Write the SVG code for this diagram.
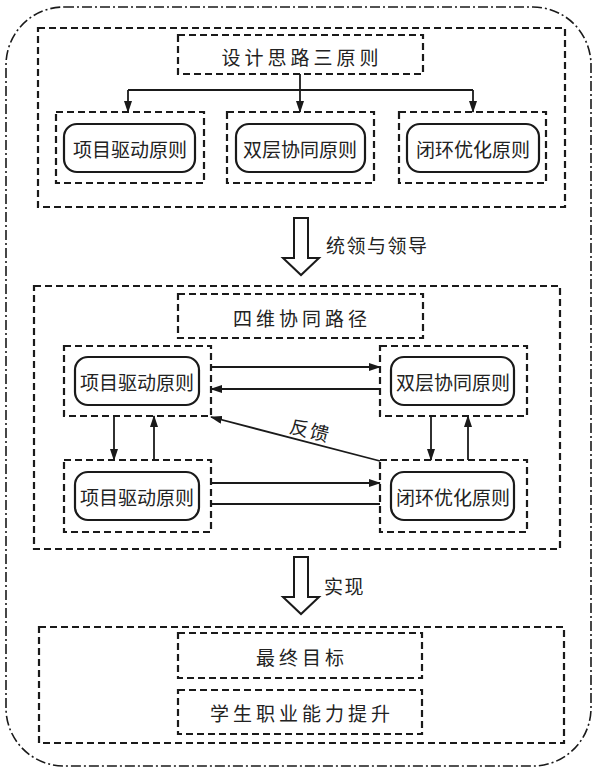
<svg xmlns="http://www.w3.org/2000/svg" width="597" height="771" viewBox="0 0 597 771">
<defs>
<marker id="ah" markerWidth="12" markerHeight="8" refX="11" refY="4" orient="auto" markerUnits="userSpaceOnUse">
<path d="M0,0 L12,4 L0,8 Z" fill="#1a1a1a"/>
</marker>
</defs>
<style>
.dash{fill:none;stroke:#1a1a1a;stroke-width:2.2;stroke-dasharray:7 4}
.inner{fill:#fff;stroke:#1a1a1a;stroke-width:2.2}
.ln{fill:none;stroke:#1a1a1a;stroke-width:1.8}
.big{fill:#fff;stroke:#1a1a1a;stroke-width:2;stroke-linejoin:miter}
.t{font-family:"Noto Sans CJK SC","Noto Sans",sans-serif;font-size:19px;fill:#222;text-anchor:middle;dominant-baseline:central}
.tt{font-family:"Noto Sans CJK SC","Noto Sans",sans-serif;font-size:19px;fill:#222;text-anchor:middle;dominant-baseline:central;letter-spacing:4px}
.lab{font-family:"Noto Sans CJK SC","Noto Sans",sans-serif;font-size:19px;fill:#222;dominant-baseline:central;letter-spacing:1.5px}
</style>
<rect x="6" y="7" width="585" height="759" rx="58" ry="58" fill="none" stroke="#1a1a1a" stroke-width="1.6" stroke-dasharray="10 3 2 3"/>

<g id="sec-top">
<rect class="dash" x="38" y="28" width="527" height="179"/>
</g>
<g id="title-top">
<rect class="dash" x="178" y="35" width="245" height="39"/>
<text class="tt" x="302" y="56">设计思路三原则</text>
</g>
<g id="top-n1">
<rect class="dash" x="56" y="112" width="148" height="71"/>
<rect class="inner" x="64" y="124" width="131" height="48" rx="13"/>
<text class="t" x="130" y="148">项目驱动原则</text>
</g>
<g id="top-n2">
<rect class="dash" x="227" y="112" width="147" height="71"/>
<rect class="inner" x="236" y="124" width="129" height="48" rx="13"/>
<text class="t" x="300" y="148">双层协同原则</text>
</g>
<g id="top-n3">
<rect class="dash" x="399" y="112" width="147" height="71"/>
<rect class="inner" x="407" y="124" width="132" height="48" rx="13"/>
<text class="t" x="473" y="148">闭环优化原则</text>
</g>

<g id="sec-mid">
<rect class="dash" x="34" y="286" width="526" height="263"/>
</g>
<g id="title-mid">
<rect class="dash" x="178" y="294" width="245" height="44"/>
<text class="tt" x="302" y="317">四维协同路径</text>
</g>
<g id="mid-n1">
<rect class="dash" x="64" y="346" width="147" height="70"/>
<rect class="inner" x="75" y="357" width="124" height="48" rx="13"/>
<text class="t" x="137" y="381">项目驱动原则</text>
</g>
<g id="mid-n2">
<rect class="dash" x="380" y="346" width="147" height="70"/>
<rect class="inner" x="391" y="357" width="123" height="48" rx="13"/>
<text class="t" x="453" y="381">双层协同原则</text>
</g>
<g id="mid-n3">
<rect class="dash" x="64" y="460" width="147" height="72"/>
<rect class="inner" x="75" y="472" width="124" height="48" rx="13"/>
<text class="t" x="137" y="496">项目驱动原则</text>
</g>
<g id="mid-n4">
<rect class="dash" x="380" y="460" width="147" height="72"/>
<rect class="inner" x="391" y="472" width="123" height="48" rx="13"/>
<text class="t" x="453" y="496">闭环优化原则</text>
</g>

<g id="sec-bot">
<rect class="dash" x="39" y="627" width="525" height="116"/>
</g>
<g id="goal-title">
<rect class="dash" x="178" y="633" width="244" height="45"/>
<text class="tt" x="302" y="656">最终目标</text>
</g>
<g id="goal">
<rect class="dash" x="178" y="690" width="244" height="44"/>
<text class="tt" x="302" y="712">学生职业能力提升</text>
</g>

<g id="connectors">
<path class="ln" d="M300,74 V112" marker-end="url(#ah)"/>
<path class="ln" d="M128,90 H473"/>
<path class="ln" d="M128,90 V112" marker-end="url(#ah)"/>
<path class="ln" d="M473,90 V112" marker-end="url(#ah)"/>

<polygon class="big" points="294,218 308,218 308,258 319,258 301,275 283,258 294,258"/>
<text class="lab" x="326" y="244">统领与领导</text>

<path class="ln" d="M211,367 H380" marker-end="url(#ah)"/>
<path class="ln" d="M380,389 H211" marker-end="url(#ah)"/>
<path class="ln" d="M211,483 H380" marker-end="url(#ah)"/>
<path class="ln" d="M211,504 H380"/>
<path class="ln" d="M114,416 V460" marker-end="url(#ah)"/>
<path class="ln" d="M154,460 V416" marker-end="url(#ah)"/>
<path class="ln" d="M431,416 V460" marker-end="url(#ah)"/>
<path class="ln" d="M468,460 V416" marker-end="url(#ah)"/>
<path class="ln" d="M380,461 L211,417" marker-end="url(#ah)"/>
<text class="lab" x="290" y="429" transform="rotate(14 310 429)">反馈</text>

<polygon class="big" points="294,557 308,557 308,597 319,597 301,614 283,597 294,597"/>
<text class="lab" x="324" y="585">实现</text>
</g>
</svg>
